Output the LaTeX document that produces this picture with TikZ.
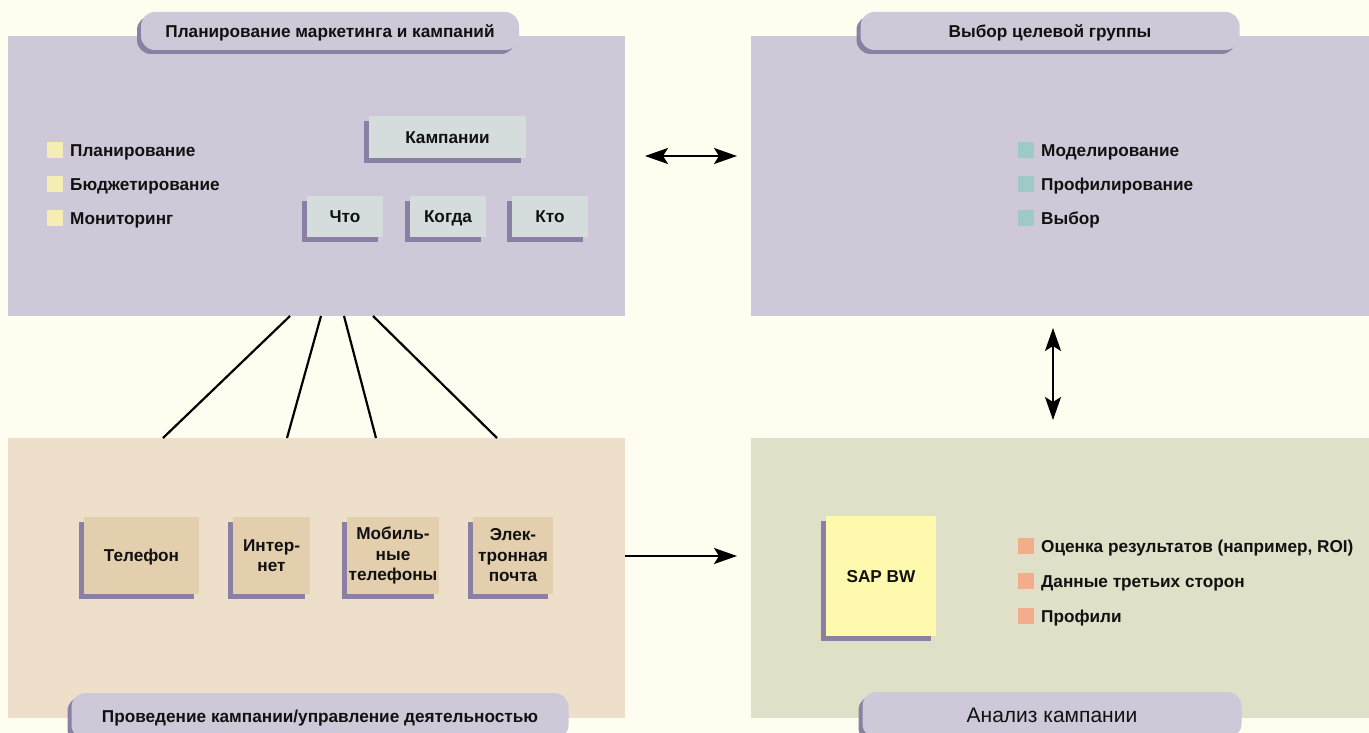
\documentclass[tikz,border=0pt]{standalone}
\usepackage{fontspec}
\setmainfont{Liberation Sans}
\usetikzlibrary{shadows,arrows.meta}
\definecolor{bg}{HTML}{FFFDEF}
\definecolor{lav}{HTML}{CFC8D8}
\definecolor{shd}{HTML}{8A80A4}
\definecolor{beige}{HTML}{EEDFCB}
\definecolor{olive}{HTML}{DFE0C7}
\definecolor{bluegray}{HTML}{D4DCDC}
\definecolor{tan}{HTML}{E3CFAE}
\definecolor{sapy}{HTML}{FFF9AE}
\definecolor{yb}{HTML}{F6EDB4}
\definecolor{tb}{HTML}{9ECAC6}
\definecolor{ob}{HTML}{F4AD8A}
\definecolor{ink}{HTML}{111111}
\tikzset{
  panel/.style={draw=none, inner sep=0pt, anchor=north west},
  oneline/.style={text height=12.3pt, text depth=0pt},
  tab/.style={rounded corners=14pt, fill=lav, draw=none, inner sep=0pt, text=ink, oneline,
    drop shadow={shadow xshift=-4pt, shadow yshift=-4pt, opacity=1, fill=shd}},
  sbox/.style={draw=none, inner sep=0pt, align=center, text=ink,
    drop shadow={shadow xshift=-5pt, shadow yshift=-5pt, opacity=1, fill=shd}},
  bul/.style={draw=none, minimum size=16pt, inner sep=0pt},
  lbl/.style={anchor=west, inner sep=0pt, text=ink, oneline},
  conn/.style={line width=2.2pt, draw=black},
  tip/.tip={Stealth[length=23pt,width=16pt,inset=5pt]},
  arr/.style={line width=2.2pt, draw=black, arrows={-tip}},
  darr/.style={line width=2.2pt, draw=black, arrows={tip-tip}}
}
\begin{document}
\begin{tikzpicture}[x=1pt,y=-1pt,font=\fontsize{17.2}{20.5}\selectfont\bfseries]
\clip (0,0) rectangle (1369,733);
\fill[bg] (0,0) rectangle (1369,733);
\useasboundingbox (0,0) rectangle (1369,733);

% panels
\node[panel, fill=lav, minimum width=617pt, minimum height=280pt] (tl) at (8,36) {};
\node[panel, fill=lav, minimum width=618pt, minimum height=280pt] (tr) at (751,36) {};
\node[panel, fill=beige, minimum width=617pt, minimum height=280pt] (bl) at (8,438) {};
\node[panel, fill=olive, minimum width=618pt, minimum height=280pt] (br) at (751,438) {};

% tabs
\node[tab, minimum width=378pt, minimum height=38pt] (tlt) at (330,31) {Планирование маркетинга и кампаний};
\node[tab, minimum width=379pt, minimum height=38pt] (trt) at (1050,31) {Выбор целевой группы};
\node[tab, minimum width=497pt, minimum height=46pt] (blt) at (320,716) {Проведение кампании/управление деятельностью};
\node[tab, minimum width=379pt, minimum height=46pt, font=\fontsize{21}{24}\selectfont\mdseries, text height=15pt] (brt) at (1052,715) {Анализ кампании};

% top-left contents
\node[bul, fill=yb] (b1) at (55,150) {};
\node[bul, fill=yb] (b2) at (55,184) {};
\node[bul, fill=yb] (b3) at (55,218) {};
\node[lbl] (t1) at (70,150) {Планирование};
\node[lbl] (t2) at (70,184) {Бюджетирование};
\node[lbl] (t3) at (70,218) {Мониторинг};

\node[sbox, oneline, fill=bluegray, minimum width=157pt, minimum height=42pt] (kamp) at (447.5,137) {Кампании};
\node[sbox, oneline, fill=bluegray, minimum width=76pt, minimum height=41pt] (chto) at (345,216.5) {Что};
\node[sbox, oneline, fill=bluegray, minimum width=76pt, minimum height=41pt] (kogda) at (448,216.5) {Когда};
\node[sbox, oneline, fill=bluegray, minimum width=76pt, minimum height=41pt] (kto) at (550,216.5) {Кто};

% top-right contents
\node[bul, fill=tb] (c1) at (1026,150) {};
\node[bul, fill=tb] (c2) at (1026,184) {};
\node[bul, fill=tb] (c3) at (1026,218) {};
\node[lbl] (u1) at (1041,150) {Моделирование};
\node[lbl] (u2) at (1041,184) {Профилирование};
\node[lbl] (u3) at (1041,218) {Выбор};

% bottom-left contents
\node[sbox, oneline, fill=tan, minimum width=115pt, minimum height=77pt] (tel) at (141.5,555.5) {Телефон};
\node[sbox, fill=tan, minimum width=77pt, minimum height=77pt] (inet) at (271.5,555.5) {Интер-\\нет};
\node[sbox, fill=tan, minimum width=92pt, minimum height=77pt] (mob) at (393,555.5) {Мобиль-\\ные\\телефоны};
\node[sbox, fill=tan, minimum width=80pt, minimum height=77pt] (mail) at (513,555.5) {Элек-\\тронная\\почта};

% bottom-right contents
\node[sbox, oneline, fill=sapy, minimum width=110pt, minimum height=120pt] (sap) at (881,576) {SAP BW};
\node[bul, fill=ob] (d1) at (1026,546) {};
\node[bul, fill=ob] (d2) at (1026,581) {};
\node[bul, fill=ob] (d3) at (1026,616) {};
\node[lbl] (v1) at (1041,546) {Оценка результатов (например, ROI)};
\node[lbl] (v2) at (1041,581) {Данные третьих сторон};
\node[lbl] (v3) at (1041,616) {Профили};

% connector end points
\coordinate (p1) at (290,316); \coordinate (q1) at (163,438);
\coordinate (p2) at (321,316); \coordinate (q2) at (287,438);
\coordinate (p3) at (344,316); \coordinate (q3) at (376,438);
\coordinate (p4) at (373,316); \coordinate (q4) at (497,438);
\draw[conn] (p1) -- (q1);
\draw[conn] (p2) -- (q2);
\draw[conn] (p3) -- (q3);
\draw[conn] (p4) -- (q4);

\coordinate (ha) at (645,156); \coordinate (hb) at (737,156);
\coordinate (va) at (1053,328); \coordinate (vb) at (1053,420);
\coordinate (sa) at (625,556); \coordinate (sb) at (737,556);
\draw[darr] (ha) -- (hb);
\draw[darr] (va) -- (vb);
\draw[arr] (sa) -- (sb);
\end{tikzpicture}
\end{document}
